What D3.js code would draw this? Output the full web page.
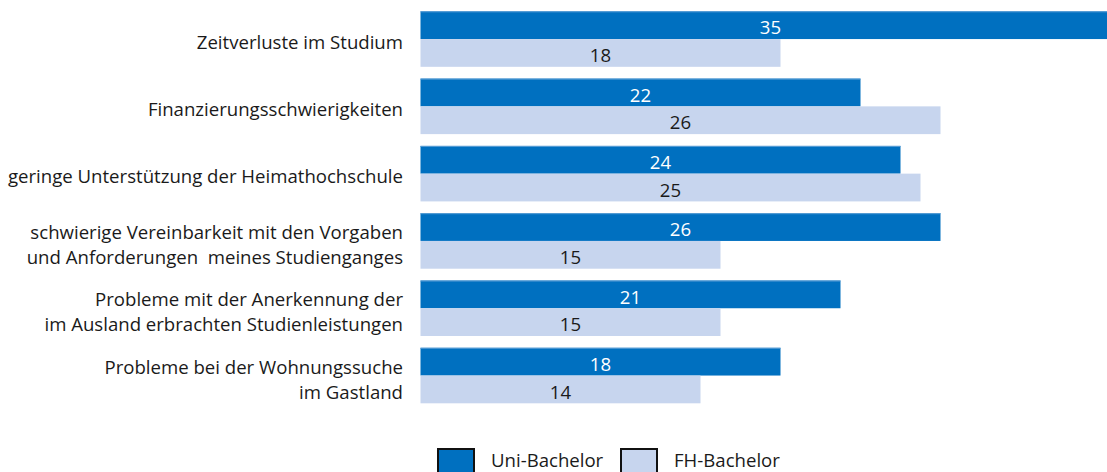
<!DOCTYPE html>
<html>
<head>
<meta charset="utf-8">
<script src="https://cdn.jsdelivr.net/npm/d3@7"></script>
<style>
  html, body { margin: 0; padding: 0; background: #fff; }
  svg { display: block; }
  text { font-family: "Open Sans", "Liberation Sans", sans-serif; }
</style>
</head>
<body>
<svg id="chart" width="1107" height="472"></svg>
<script>
const categories = [
  ["Zeitverluste im Studium"],
  ["Finanzierungsschwierigkeiten"],
  ["geringe Unterstützung der Heimathochschule"],
  ["schwierige Vereinbarkeit mit den Vorgaben", "und Anforderungen  meines Studienganges"],
  ["Probleme mit der Anerkennung der", "im Ausland erbrachten Studienleistungen"],
  ["Probleme bei der Wohnungssuche", "im Gastland"]
];
const seriesNames = ["Uni-Bachelor", "FH-Bachelor"];
const uniBachelor = [35, 22, 24, 26, 21, 18];
const fhBachelor = [18, 26, 25, 15, 15, 14];

const colors = ["#0070C0", "#C7D5EE"];
const textColors = ["#ffffff", "#1a1a1a"];
const FS = 18.6;

const svg = d3.select("#chart");
const W = 1107, H = 472;

const keys = categories.map((c, i) => "c" + i);
const y = d3.scaleBand().domain(keys).range([11.3, 403.3]).paddingInner(0.175).paddingOuter(0);
const ySub = d3.scaleBand().domain([0, 1]).range([0, y.bandwidth()]).padding(0);
const x = d3.scaleLinear().domain([0, 35]).range([420.5, 1120.5]);

const rows = categories.map((c, i) => ({ key: keys[i], label: c, vals: [uniBachelor[i], fhBachelor[i]] }));

svg.append("defs").append("clipPath").attr("id", "clip")
  .append("rect").attr("x", 0).attr("y", 0).attr("width", W).attr("height", H);

const g = svg.append("g").attr("clip-path", "url(#clip)");

const groups = g.selectAll("g.grp").data(rows).join("g")
  .attr("class", "grp")
  .attr("transform", d => `translate(0,${y(d.key)})`);

const bars = d => d.vals.map((v, s) => ({ v, s }));

groups.selectAll("rect.bar").data(bars).join("rect")
  .attr("class", "bar")
  .attr("x", x(0))
  .attr("y", d => ySub(d.s))
  .attr("width", d => x(d.v) - x(0))
  .attr("height", ySub.bandwidth())
  .attr("fill", d => colors[d.s]);

// subtle lighter top edge on dark bars
groups.selectAll("line.edge").data(d => bars(d).filter(b => b.s === 0)).join("line")
  .attr("class", "edge")
  .attr("x1", x(0)).attr("x2", d => x(d.v))
  .attr("y1", d => ySub(d.s) + 0.5).attr("y2", d => ySub(d.s) + 0.5)
  .attr("stroke", "#5C9FD6").attr("stroke-width", 1);

groups.selectAll("text.val").data(bars).join("text")
  .attr("class", "val")
  .attr("x", d => (x(0) + x(d.v)) / 2)
  .attr("y", d => ySub(d.s) + ySub.bandwidth() / 2 + 2.5)
  .attr("dy", "0.36em")
  .attr("text-anchor", "middle")
  .attr("font-size", FS)
  .attr("fill", d => textColors[d.s])
  .text(d => d.v);

// category labels
const lineH = 25;
groups.each(function(d) {
  const n = d.label.length;
  const cy = y.bandwidth() / 2 + (n > 1 ? 4 : 3);
  const t = d3.select(this).append("text")
    .attr("text-anchor", "end")
    .attr("font-size", FS)
    .attr("fill", "#1a1a1a");
  d.label.forEach((line, k) => {
    t.append("tspan")
      .attr("x", 403)
      .attr("y", cy + (k - (n - 1) / 2) * lineH)
      .attr("dy", "0.36em")
      .attr("xml:space", "preserve")
      .text(line);
  });
});

// legend
const legend = svg.append("g");
const legItems = [
  { name: seriesNames[0], bx: 438, tx: 491 },
  { name: seriesNames[1], bx: 621, tx: 674 }
];
legItems.forEach((it, i) => {
  legend.append("rect")
    .attr("x", it.bx).attr("y", 449)
    .attr("width", 36).attr("height", 30)
    .attr("fill", colors[i])
    .attr("stroke", "#111").attr("stroke-width", 2);
  legend.append("text")
    .attr("x", it.tx).attr("y", 467)
    .attr("font-size", FS)
    .attr("fill", "#1a1a1a")
    .text(it.name);
});
</script>
</body>
</html>
